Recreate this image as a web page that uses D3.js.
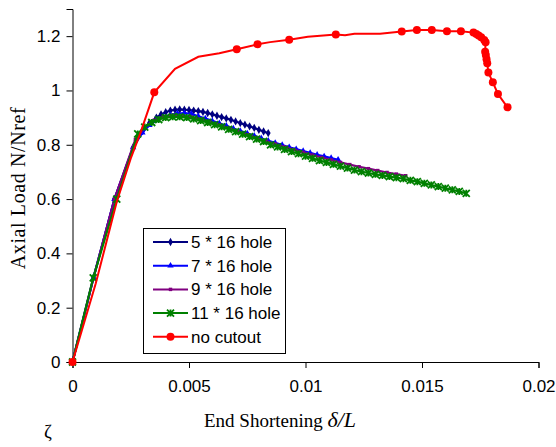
<!DOCTYPE html>
<html><head><meta charset="utf-8">
<script src="https://cdn.jsdelivr.net/npm/d3@7"></script>
<style>body{margin:0;background:#fff}svg{display:block}</style>
</head><body><svg id="c" width="556" height="447"></svg>
<script>
// ---- data ----
const xTicks = [0, 0.005, 0.01, 0.015, 0.02];
const xTickLabels = ["0", "0.005", "0.01", "0.015", "0.02"];
const yTicks = [0, 0.2, 0.4, 0.6, 0.8, 1, 1.2];
const yTickLabels = ["0", "0.2", "0.4", "0.6", "0.8", "1", "1.2"];
const seriesNames = ["5 * 16 hole", "7 * 16 hole", "9 * 16 hole", "11 * 16 hole", "no cutout"];

const h5x = [0, 0.0009, 0.0018, 0.0026, 0.0030, 0.0033, 0.0036, 0.0038, 0.0040, 0.0042, 0.0044, 0.0046, 0.0048, 0.0050, 0.0052, 0.0054, 0.0056, 0.0058, 0.0060, 0.0062, 0.0064, 0.0066, 0.0068, 0.0070, 0.0072, 0.0074, 0.0076, 0.0078, 0.0080, 0.0082, 0.0084];
const h5y = [0, 0.31, 0.60, 0.79, 0.85, 0.88, 0.90, 0.912, 0.92, 0.926, 0.929, 0.93, 0.929, 0.928, 0.926, 0.924, 0.921, 0.917, 0.912, 0.907, 0.902, 0.897, 0.892, 0.886, 0.880, 0.874, 0.868, 0.862, 0.855, 0.849, 0.843];

const h7x = [0, 0.0009, 0.0018, 0.0026, 0.0030, 0.0033, 0.0036, 0.0039, 0.0042, 0.0045, 0.0048, 0.0051, 0.0054, 0.0057, 0.0060, 0.0063, 0.0066, 0.0069, 0.0072, 0.0075, 0.0078, 0.0081, 0.0084, 0.0087, 0.0090, 0.0093, 0.0096, 0.0099, 0.0102, 0.0105, 0.0108, 0.0111, 0.0114];
const h7y = [0, 0.31, 0.60, 0.79, 0.845, 0.872, 0.89, 0.902, 0.91, 0.915, 0.917, 0.914, 0.905, 0.897, 0.888, 0.879, 0.870, 0.860, 0.851, 0.842, 0.833, 0.824, 0.815, 0.807, 0.799, 0.791, 0.784, 0.777, 0.770, 0.763, 0.757, 0.751, 0.745];

const h9x = [0, 0.0009, 0.0018, 0.0027, 0.0031, 0.0035, 0.0039, 0.0043, 0.0047, 0.0051, 0.0055, 0.0059, 0.0063, 0.0067, 0.0071, 0.0075, 0.0079, 0.0083, 0.0087, 0.0091, 0.0095, 0.0099, 0.0103, 0.0107, 0.0111, 0.0115, 0.0119, 0.0123, 0.0127, 0.0131, 0.0135, 0.0139, 0.0143];
const h9y = [0, 0.31, 0.60, 0.82, 0.865, 0.89, 0.903, 0.908, 0.906, 0.902, 0.894, 0.884, 0.873, 0.861, 0.849, 0.837, 0.825, 0.814, 0.803, 0.792, 0.782, 0.772, 0.762, 0.753, 0.744, 0.735, 0.727, 0.719, 0.712, 0.705, 0.698, 0.692, 0.686];

const h11x = [0, 0.00089, 0.0019, 0.0028, 0.0031, 0.0034, 0.0037, 0.0040, 0.0043, 0.0046, 0.0049, 0.0052, 0.0055, 0.0058, 0.0061, 0.0064, 0.0067, 0.0070, 0.0073, 0.0076, 0.0079, 0.0082, 0.0085, 0.0088, 0.0091, 0.0094, 0.0097, 0.0100, 0.0103, 0.0106, 0.0109, 0.0112, 0.0115, 0.0118, 0.0121, 0.0124, 0.0127, 0.0130, 0.0133, 0.0136, 0.0139, 0.0142, 0.0145, 0.0148, 0.0151, 0.0154, 0.0157, 0.0160, 0.0163, 0.0166, 0.0169];
const h11y = [0, 0.31, 0.60, 0.84, 0.865, 0.882, 0.893, 0.90, 0.903, 0.903, 0.900, 0.895, 0.889, 0.882, 0.874, 0.866, 0.857, 0.848, 0.839, 0.830, 0.821, 0.812, 0.800, 0.792, 0.783, 0.775, 0.767, 0.758, 0.750, 0.742, 0.735, 0.728, 0.721, 0.714, 0.707, 0.701, 0.696, 0.691, 0.687, 0.683, 0.679, 0.675, 0.669, 0.664, 0.658, 0.652, 0.646, 0.640, 0.634, 0.628, 0.621];

const redX = [0, 0.001, 0.0019, 0.0025, 0.0029, 0.00351, 0.0044, 0.0054, 0.0063, 0.00705, 0.00794, 0.00848, 0.0093, 0.0101, 0.0113, 0.0117, 0.0121, 0.0132, 0.01413, 0.01478, 0.01542, 0.01607, 0.01667, 0.01721, 0.01733, 0.01743, 0.01754, 0.01767, 0.01773, 0.01771, 0.01774, 0.01777, 0.0178, 0.01785, 0.01804, 0.01826, 0.01867];
const redY = [0, 0.29, 0.59, 0.75, 0.84, 0.993, 1.08, 1.124, 1.137, 1.152, 1.170, 1.178, 1.187, 1.198, 1.206, 1.203, 1.209, 1.209, 1.217, 1.223, 1.223, 1.218, 1.218, 1.213, 1.208, 1.202, 1.196, 1.186, 1.178, 1.143, 1.131, 1.115, 1.100, 1.066, 1.030, 0.987, 0.938];
const redMarked = [1, 0, 0, 0, 0, 1, 0, 0, 0, 1, 1, 0, 1, 0, 1, 0, 0, 0, 1, 1, 1, 1, 1, 1, 1, 1, 1, 1, 1, 1, 1, 1, 1, 1, 1, 1, 1];

// ---- chart ----
const svg = d3.select("#c");
svg.append("rect").attr("width", 556).attr("height", 447).attr("fill", "#fff");
const x = d3.scaleLinear().domain([0, 0.02]).range([72.5, 538.5]);
const y = d3.scaleLinear().domain([0, 1.3]).range([362, 9]);

const sans = "Liberation Sans, Arial, sans-serif";
const serif = "Liberation Serif, Times New Roman, serif";

const xAxis = svg.append("g").attr("transform", "translate(0,362)")
  .call(d3.axisBottom(x).tickValues(xTicks).tickFormat((d, i) => xTickLabels[i]).tickSizeOuter(0).tickSize(6).tickPadding(12));
const yAxis = svg.append("g").attr("transform", "translate(72.5,0)")
  .call(d3.axisLeft(y).tickValues(yTicks).tickFormat((d, i) => yTickLabels[i]).tickSizeOuter(0).tickSize(6).tickPadding(6));
[xAxis, yAxis].forEach(a => {
  a.selectAll("text").attr("font-family", sans).attr("font-size", 17).attr("fill", "#000");
  a.selectAll("line,path").attr("stroke", "#000");
});

const colors = ["#000080", "#0000FF", "#800080", "#008000", "#FF0000"];
const series = [[h5x, h5y], [h7x, h7y], [h9x, h9y], [h11x, h11y]];

function marker(g, k, cx, cy) {
  const c = colors[k];
  if (k === 0) g.append("path").attr("d", d3.symbol(d3.symbolDiamond, 20)()).attr("transform", `translate(${cx},${cy})`).attr("fill", c);
  else if (k === 1) g.append("path").attr("d", d3.symbol(d3.symbolTriangle, 18)()).attr("transform", `translate(${cx},${cy})`).attr("fill", c);
  else if (k === 2) g.append("path").attr("d", d3.symbol(d3.symbolSquare, 12)()).attr("transform", `translate(${cx},${cy})`).attr("fill", c);
  else if (k === 3) {
    const s = 3.5;
    g.append("path").attr("d", `M${cx - s},${cy - s}L${cx + s},${cy + s}M${cx - s},${cy + s}L${cx + s},${cy - s}M${cx},${cy - s}L${cx},${cy + s}`)
      .attr("stroke", c).attr("stroke-width", 1.8).attr("fill", "none");
  } else g.append("circle").attr("cx", cx).attr("cy", cy).attr("r", 4).attr("fill", c);
}

const line = d3.line().x(d => x(d[0])).y(d => y(d[1]));
series.forEach(([xs, ys], k) => {
  const pts = xs.map((v, i) => [v, ys[i]]);
  const g = svg.append("g");
  g.append("path").attr("d", line(pts)).attr("fill", "none").attr("stroke", colors[k]).attr("stroke-width", 2.2);
  pts.forEach(p => marker(g, k, x(p[0]), y(p[1])));
});
{
  const pts = redX.map((v, i) => [v, redY[i], redMarked[i]]);
  const g = svg.append("g");
  g.append("path").attr("d", line(pts)).attr("fill", "none").attr("stroke", colors[4]).attr("stroke-width", 2);
  pts.filter(p => p[2]).forEach(p => marker(g, 4, x(p[0]), y(p[1])));
}

// legend
const lg = svg.append("g");
lg.append("rect").attr("x", 143.5).attr("y", 228.5).attr("width", 142).attr("height", 125)
  .attr("fill", "#fff").attr("stroke", "#000").attr("stroke-width", 1);
seriesNames.forEach((name, k) => {
  const yy = 242 + k * 23.7;
  lg.append("line").attr("x1", 153).attr("x2", 188).attr("y1", yy).attr("y2", yy).attr("stroke", colors[k]).attr("stroke-width", 2);
  marker(lg, k, 170.5, yy);
  lg.append("text").attr("x", 191).attr("y", yy + 6).attr("font-family", sans).attr("font-size", 17).text(name);
});

// axis titles
const xt = svg.append("text").attr("x", 280).attr("y", 427).attr("text-anchor", "middle")
  .attr("font-family", serif).attr("font-size", 19);
xt.append("tspan").text("End Shortening  ");
xt.append("tspan").attr("font-style", "italic").attr("font-size", 22).text("δ/L");

svg.append("text").attr("transform", "translate(25,188) rotate(-90)").attr("text-anchor", "middle")
  .attr("font-family", serif).attr("font-size", 20).attr("letter-spacing", 0.6).text("Axial Load N/Nref");

svg.append("text").attr("x", 44).attr("y", 438).attr("font-family", serif).attr("font-size", 19).text("ζ");
</script></body></html>
